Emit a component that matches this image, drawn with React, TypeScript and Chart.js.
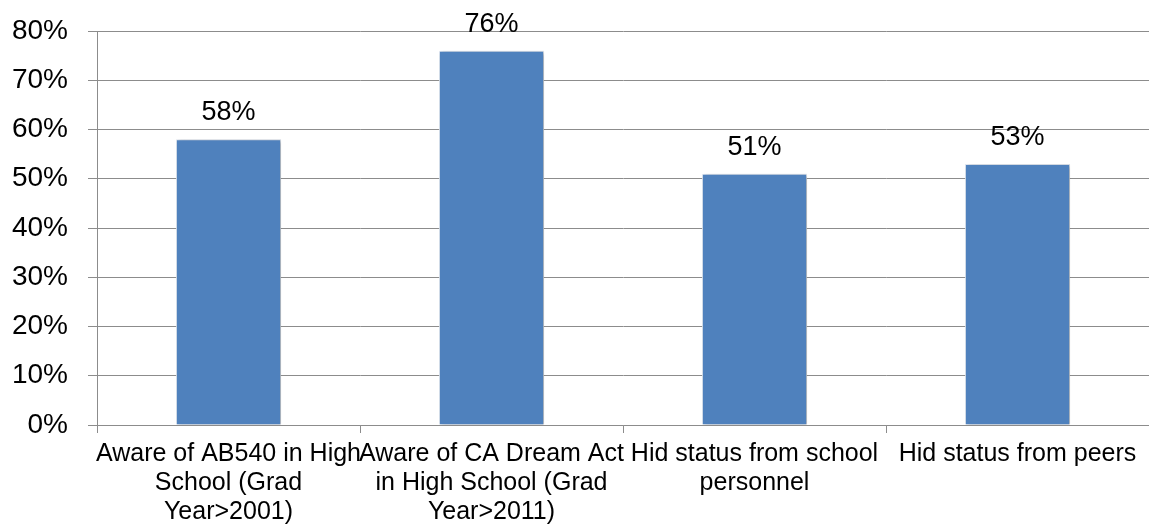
import React, { useEffect, useRef } from "react";
import { Chart, registerables } from "chart.js";

Chart.register(...registerables);

const categories: string[][] = [
  ["Aware of AB540 in High", "School (Grad", "Year>2001)"],
  ["Aware of CA Dream Act", "in High School (Grad", "Year>2011)"],
  ["Hid status from school", "personnel"],
  ["Hid status from peers"],
];
const values: number[] = [58, 76, 51, 53];
const yMin = 0;
const yMax = 80;
const yStep = 10;

const FONT = "'Liberation Sans', Arial, sans-serif";

const valueLabels = {
  id: "valueLabels",
  afterDatasetsDraw(chart: any) {
    const ctx = chart.ctx;
    const meta = chart.getDatasetMeta(0);
    ctx.save();
    ctx.font = `27px ${FONT}`;
    ctx.fillStyle = "#000";
    ctx.textAlign = "center";
    ctx.textBaseline = "alphabetic";
    meta.data.forEach((bar: any, i: number) => {
      ctx.fillText(`${values[i]}%`, bar.x, bar.y - 19);
    });
    ctx.restore();
  },
};

const barShadow = {
  id: "barShadow",
  beforeDatasetsDraw(chart: any) {
    const ctx = chart.ctx;
    ctx.save();
    ctx.shadowColor = "rgba(0,0,0,0.3)";
    ctx.shadowBlur = 4;
    ctx.shadowOffsetX = 2;
    ctx.shadowOffsetY = 1;
  },
  afterDatasetsDraw(chart: any) {
    chart.ctx.restore();
  },
};

export default function App() {
  const ref = useRef<HTMLCanvasElement | null>(null);
  useEffect(() => {
    if (!ref.current) return;
    const chart = new Chart(ref.current, {
      type: "bar",
      data: {
        labels: categories,
        datasets: [
          {
            data: values,
            backgroundColor: "#4F81BD",
            borderColor: "#e4eaf3",
            borderWidth: 1,
            barPercentage: 0.4,
            categoryPercentage: 1,
          },
        ],
      },
      options: {
        responsive: false,
        animation: false,
        devicePixelRatio: 1,
        layout: { padding: { left: 0, top: 31, right: 0, bottom: 0 } },
        plugins: { legend: { display: false }, tooltip: { enabled: false } },
        scales: {
          x: {
            offset: true,
            grid: {
              offset: true,
              drawOnChartArea: false,
              tickLength: 8,
              color: "#8c8c8c",
            },
            border: { color: "#8c8c8c" },
            ticks: {
              font: { family: FONT, size: 25, lineHeight: 1.16 },
              color: "#000",
              padding: 7,
              maxRotation: 0,
              autoSkip: false,
            },
            afterFit: (s: any) => {
              s.height = 104;
              s.paddingLeft = 0;
              s.paddingRight = 0;
            },
          },
          y: {
            min: yMin,
            max: yMax,
            grid: { color: "#8c8c8c", tickLength: 9 },
            border: { color: "#8c8c8c" },
            ticks: {
              stepSize: yStep,
              font: { family: FONT, size: 28 },
              color: "#000",
              padding: 20,
              callback: (v: any) => `${v}%`,
            },
            afterFit: (s: any) => {
              s.width = 97;
              s.paddingTop = 0;
              s.paddingBottom = 0;
            },
          },
        },
      },
      plugins: [barShadow, valueLabels],
    });
    return () => chart.destroy();
  }, []);
  return (
    <div style={{ position: "fixed", left: 0, top: 0, width: 1149, height: 529, background: "#fff" }}>
      <canvas ref={ref} width={1149} height={529} style={{ display: "block" }} />
    </div>
  );
}
